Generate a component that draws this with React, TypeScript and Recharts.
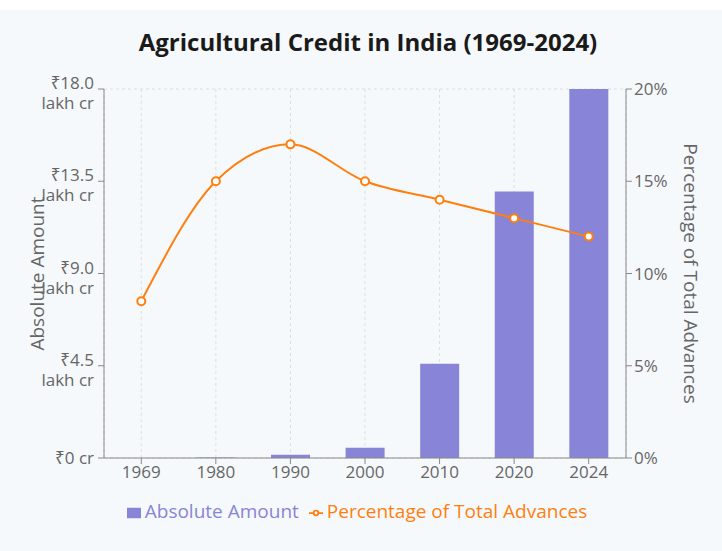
import React from "react";
import {
  ComposedChart,
  Bar,
  Line,
  XAxis,
  YAxis,
  CartesianGrid,
  Legend,
} from "recharts";

const years = ["1969", "1980", "1990", "2000", "2010", "2020", "2024"];
// absolute amount in crore
const absoluteAmount = [160, 3000, 16000, 50000, 460000, 1300000, 1800000];
// percentage of total advances
const percentageOfAdvances = [8.5, 15, 17, 15, 14, 13, 12];
const leftTicks = [0, 450000, 900000, 1350000, 1800000];
const rightTicks = [0, 5, 10, 15, 20];

const data = years.map((y, i) => ({
  year: y,
  amount: absoluteAmount[i],
  pct: percentageOfAdvances[i],
}));

const FONT = "'Open Sans', 'Noto Sans', sans-serif";
const BAR = "#8884d8";
const ORANGE = "#ff7f0e";
const TICK = 17;

const formatAmount = (v: number): string[] => {
  if (v >= 100000) return ["₹" + (v / 100000).toFixed(1), "lakh cr"];
  return ["₹" + v + " cr"];
};

const LeftTick = (props: any) => {
  const { x, y, payload } = props;
  const lines = formatAmount(payload.value);
  const tx = x - 2;
  if (lines.length === 1) {
    return (
      <text x={tx} y={y} dy={6} textAnchor="end" fill="#666" fontSize={TICK} fontFamily={FONT}>
        {lines[0]}
      </text>
    );
  }
  return (
    <text x={tx} y={y} textAnchor="end" fill="#666" fontSize={TICK} fontFamily={FONT}>
      <tspan x={tx} dy={0}>{lines[0]}</tspan>
      <tspan x={tx} dy={20}>{lines[1]}</tspan>
    </text>
  );
};

const LeftLabel = (props: any) => {
  const { viewBox } = props;
  const cx = 37;
  const cy = viewBox.y + viewBox.height / 2;
  return (
    <text
      x={cx}
      y={cy}
      transform={`rotate(-90, ${cx}, ${cy})`}
      textAnchor="middle"
      dominantBaseline="central"
      fill="#666"
      fontSize={19}
      fontFamily={FONT}
    >
      Absolute Amount
    </text>
  );
};

const RightLabel = (props: any) => {
  const { viewBox } = props;
  const cx = 691;
  const cy = viewBox.y + viewBox.height / 2;
  return (
    <text
      x={cx}
      y={cy}
      transform={`rotate(90, ${cx}, ${cy})`}
      textAnchor="middle"
      dominantBaseline="central"
      fill="#666"
      fontSize={19}
      fontFamily={FONT}
    >
      Percentage of Total Advances
    </text>
  );
};

export default function App() {
  return (
    <div style={{ width: 722, height: 551, background: "#ffffff", position: "relative", overflow: "hidden" }}>
      <style>{`body{margin:0;}`}</style>
      <div
        style={{
          position: "absolute",
          top: 10,
          left: 0,
          width: 722,
          height: 541,
          background: "#f6f9fc",
        }}
      />
      <div
        style={{
          position: "absolute",
          top: 26,
          left: 0,
          width: 736,
          textAlign: "center",
          fontFamily: FONT,
          fontWeight: 700,
          fontSize: 24,
          color: "#1a1a1a",
          lineHeight: "32px",
        }}
      >
        Agricultural Credit in India (1969-2024)
      </div>
      <div style={{ position: "absolute", top: 60, left: 0 }}>
        <ComposedChart
          width={722}
          height={480}
          data={data}
          margin={{ top: 29, right: 36, left: 14, bottom: 16 }}
          barCategoryGap="24%"
        >
          <CartesianGrid strokeDasharray="3 3" stroke="#ddd" />
          <XAxis
            dataKey="year"
            tick={{ fill: "#666", fontSize: TICK, fontFamily: FONT }}
            stroke="#888"
            tickMargin={2}
          />
          <YAxis
            yAxisId="left"
            width={90}
            domain={[0, 1800000]}
            ticks={leftTicks}
            tick={<LeftTick />}
            stroke="#888"
            label={<LeftLabel />}
          />
          <YAxis
            yAxisId="right"
            orientation="right"
            width={60}
            domain={[0, 20]}
            ticks={rightTicks}
            tickFormatter={(v: number) => `${v}%`}
            tick={{ fill: "#666", fontSize: TICK, fontFamily: FONT }}
            stroke="#888"
            label={<RightLabel />}
          />
          <Legend
            verticalAlign="bottom"
            wrapperStyle={{ paddingTop: 10, fontFamily: FONT, fontSize: 19, left: 26 }}
          />
          <Bar
            yAxisId="left"
            dataKey="amount"
            name="Absolute Amount"
            fill={BAR}
            isAnimationActive={false}
          />
          <Line
            yAxisId="right"
            type="monotone"
            dataKey="pct"
            name="Percentage of Total Advances"
            stroke={ORANGE}
            strokeWidth={2}
            dot={{ r: 4, fill: "#fff", stroke: ORANGE, strokeWidth: 2 }}
            isAnimationActive={false}
          />
        </ComposedChart>
      </div>
    </div>
  );
}
